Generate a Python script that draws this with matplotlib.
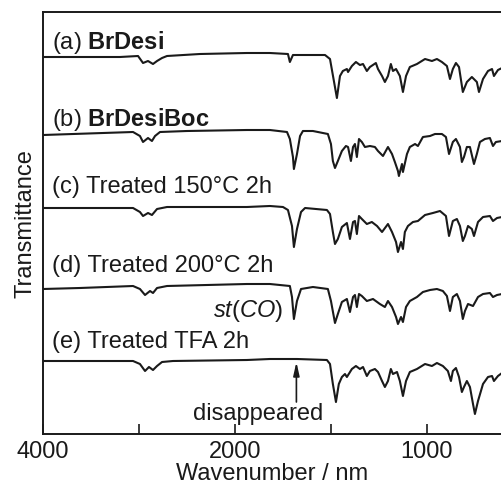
import numpy as np
import matplotlib
matplotlib.use("Agg")
import matplotlib.pyplot as plt

plt.rcParams['font.family'] = ['Liberation Sans', 'DejaVu Sans']
plt.rcParams['mathtext.fontset'] = 'custom'
plt.rcParams['mathtext.rm'] = 'Liberation Sans'
plt.rcParams['mathtext.it'] = 'Liberation Sans:italic'
plt.rcParams['mathtext.bf'] = 'Liberation Sans:bold'

# ---- data: wavenumber (cm-1) and relative transmittance ----
wn_a = [4000, 3615, 3198, 3010, 2958, 2906, 2854, 2812, 2760, 2708, 2365, 1938,
        1818, 1724, 1714, 1698, 1531, 1505, 1469, 1453, 1438, 1417, 1411, 1391, 1370, 1349,
        1333, 1313, 1297, 1266, 1255, 1234, 1219, 1203, 1188, 1177, 1161, 1141, 1125, 1109,
        1089, 1052, 1010, 974, 948, 922, 896, 880, 865, 849, 833, 813, 792, 766, 740, 729,
        708, 682, 661, 651, 630, 609]
tr_a = [100, 100, 100, 101, 94, 96, 93, 96, 99, 101, 103, 104,
        104, 103, 95, 102, 102, 98, 59, 81, 86, 88, 85, 91, 95, 92,
        93, 86, 90, 94, 88, 81, 75, 81, 93, 86, 88, 81, 65, 81,
        90, 93, 98, 96, 98, 95, 91, 78, 88, 94, 90, 65, 75, 80, 75, 65,
        78, 86, 88, 81, 87, 89]

wn_b = [4000, 3062, 2990, 2958, 2906, 2865, 2833, 2781, 2500, 1938,
        1818, 1729, 1714, 1698, 1693, 1677, 1661, 1646, 1594, 1516, 1500, 1490, 1479, 1464,
        1443, 1422, 1411, 1396, 1385, 1375, 1365, 1354, 1339, 1323, 1297, 1271, 1255, 1229,
        1203, 1182, 1167, 1151, 1146, 1130, 1125, 1104, 1089, 1062, 1047, 1021, 984, 958,
        922, 901, 885, 865, 849, 828, 818, 807, 792, 776, 755, 740, 724, 698, 672, 656,
        641, 609]
tr_b = [100, 103, 99, 93, 97, 94, 99, 103, 104, 105,
        105, 103, 96, 78, 66, 81, 99, 104, 104, 101, 91, 74, 67, 74,
        84, 89, 88, 74, 88, 91, 78, 96, 93, 88, 89, 88, 84, 79,
        88, 81, 73, 64, 59, 71, 63, 81, 88, 91, 89, 98, 99, 101,
        101, 98, 81, 93, 96, 88, 73, 78, 88, 88, 71, 81, 93, 96, 97, 89,
        93, 94]

wn_c = [4000, 3062, 2990, 2958, 2906, 2865, 2812, 2708, 1938,
        1818, 1750, 1724, 1703, 1693, 1677, 1656, 1635, 1521, 1505, 1490, 1479, 1464, 1443,
        1417, 1401, 1385, 1375, 1365, 1354, 1339, 1313, 1287, 1260, 1234, 1203, 1182, 1161,
        1151, 1135, 1125, 1115, 1099, 1073, 1047, 1010, 969, 932, 901, 885, 865, 844, 828,
        813, 802, 786, 766, 755, 734, 708, 672, 656, 635, 609]
tr_c = [100, 100, 96, 92, 95, 93, 99, 101, 101,
        102, 101, 98, 82, 61, 79, 96, 100, 98, 94, 76, 64, 69, 81,
        85, 69, 86, 87, 74, 92, 89, 84, 86, 82, 76, 84, 76, 66,
        56, 66, 59, 76, 82, 86, 87, 93, 95, 97, 92, 72, 87, 89, 82,
        67, 72, 82, 79, 72, 86, 91, 92, 87, 90, 91]

wn_d = [4000, 3615, 3062, 2990, 2937, 2885, 2854, 2812, 2708, 1938,
        1818, 1714, 1703, 1693, 1677, 1656, 1594, 1516, 1500, 1479, 1464, 1443, 1417, 1401,
        1385, 1375, 1365, 1354, 1339, 1313, 1281, 1245, 1219, 1203, 1182, 1161, 1151, 1135,
        1125, 1109, 1089, 1052, 1021, 984, 948, 917, 896, 880, 865, 844, 828, 813, 802, 786,
        760, 734, 708, 672, 656, 635, 609]
tr_d = [97, 98, 100, 97, 91, 95, 93, 98, 100, 102,
        102, 100, 89, 67, 85, 97, 99, 97, 85, 63, 72, 84, 87, 74,
        89, 91, 79, 92, 90, 85, 87, 82, 79, 85, 79, 69, 62, 69,
        64, 79, 85, 89, 94, 96, 97, 95, 90, 75, 89, 92, 85, 67, 75, 82,
        80, 89, 92, 93, 89, 91, 92]

wn_e = [4000, 3062, 2990, 2937, 2896, 2854, 2812, 2760, 2646, 1938,
        1818, 1677, 1521, 1505, 1490, 1474, 1459, 1443, 1427, 1417, 1391, 1370, 1349, 1333,
        1313, 1297, 1271, 1255, 1234, 1219, 1203, 1188, 1177, 1156, 1141, 1125, 1109, 1089,
        1052, 1010, 974, 948, 917, 891, 875, 865, 849, 833, 818, 807, 792, 776, 760, 750,
        734, 708, 682, 661, 651, 630, 609]
tr_e = [100, 100, 97, 90, 94, 91, 95, 99, 100, 101,
        102, 102, 101, 97, 77, 59, 77, 84, 87, 84, 92, 95, 92, 94,
        85, 90, 92, 89, 80, 74, 80, 92, 87, 89, 80, 65, 80, 89,
        92, 97, 95, 98, 95, 90, 80, 90, 93, 84, 69, 74, 80, 74, 57, 47,
        60, 77, 84, 85, 80, 85, 88]

labels = ['(a) $\\mathbf{BrDesi}$', '(b) $\\mathbf{BrDesiBoc}$',
          '(c) Treated 150\u00b0C 2h', '(d) Treated 200\u00b0C 2h',
          '(e) Treated TFA 2h']
xticks_major = [4000, 2000, 1000]
xticks_minor = [3000, 1500]

# ---- layout ----
series = [(wn_a, tr_a), (wn_b, tr_b), (wn_c, tr_c), (wn_d, tr_d), (wn_e, tr_e)]
offsets = [277, 199, 126, 48, -27]
label_y = [386, 309, 242, 163, 87]
FS = 17


def fwd(w):
    w = np.asarray(w, dtype=float)
    return np.where(w >= 2000, 2000 + (w - 2000) / 2.0, w)


def inv(v):
    v = np.asarray(v, dtype=float)
    return np.where(v >= 2000, 2000 + (v - 2000) * 2.0, v)


fig = plt.figure(figsize=(5.02, 4.85), dpi=100)
ax = fig.add_axes([43 / 502, 50 / 485, 1 - 43 / 502, 422 / 485])
ax.set_xscale('function', functions=(fwd, inv))

lc = '#1a1a1a'
for (wn, tr), off in zip(series, offsets):
    ax.plot(wn, np.asarray(tr) + off, color=lc, lw=1.5)

for lab, yy in zip(labels, label_y):
    ax.text(3906, yy, lab, fontsize=FS, va='baseline', ha='left', color=lc)

ax.text(1750, 118, '$\\mathit{st}$($\\mathit{CO}$)', fontsize=FS,
        va='baseline', ha='right', color=lc)
ax.text(2437, 15, 'disappeared', fontsize=FS, va='baseline', ha='left', color=lc)
ax.annotate('', xy=(1680, 72), xytext=(1680, 32),
            arrowprops=dict(arrowstyle='-|>,head_length=0.8,head_width=0.18',
                            color=lc, lw=1.2, shrinkA=0, shrinkB=0))

ax.set_xlim(4000, 609)
ax.set_ylim(0, 422)
ax.set_xticks(xticks_major)
ax.set_xticklabels([str(t) for t in xticks_major])
ax.set_xticks(xticks_minor, minor=True)
ax.set_xticklabels([], minor=True)
ax.tick_params(axis='x', which='both', direction='in', length=7, width=1.2,
               labelsize=FS, pad=4, colors=lc)
ax.set_yticks([])
ax.spines['right'].set_visible(False)
for s in ['left', 'top', 'bottom']:
    ax.spines[s].set_linewidth(1.4)
    ax.spines[s].set_color(lc)
ax.set_xlabel('Wavenumber / nm', fontsize=FS, labelpad=0, color=lc)
ax.set_ylabel('Transmittance', fontsize=FS, labelpad=5, color=lc)

fig.savefig('out.png', dpi=100)
